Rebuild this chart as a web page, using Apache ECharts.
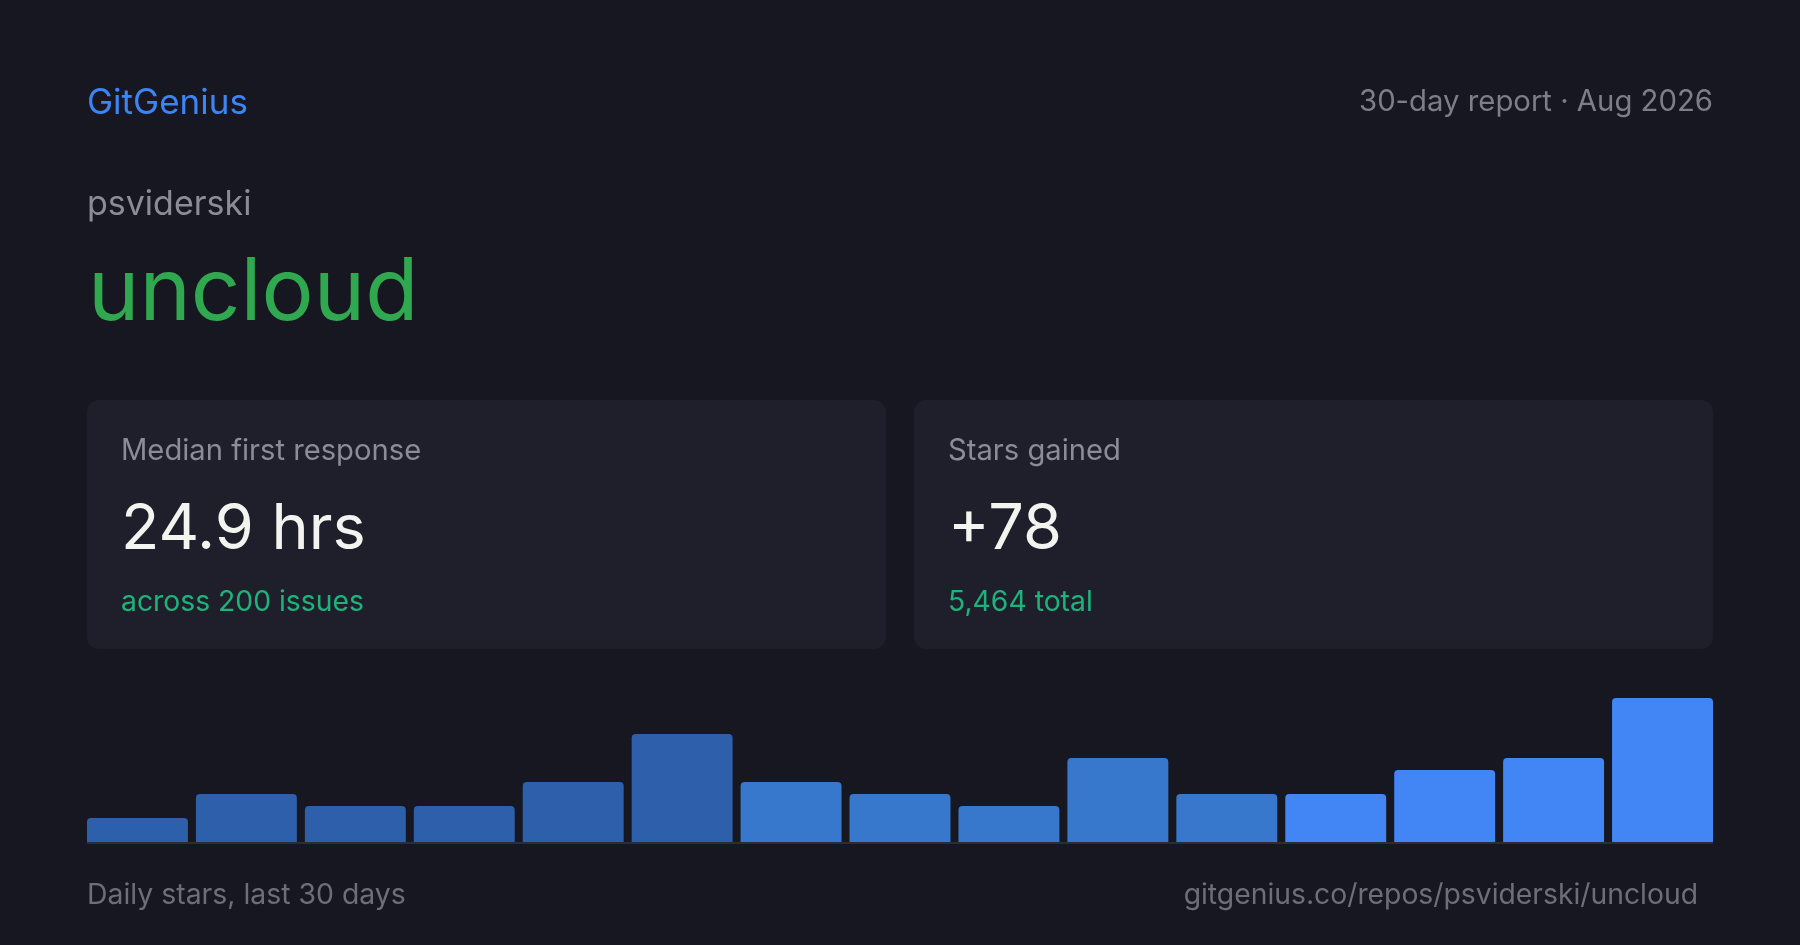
<!DOCTYPE html>
<html>
<head>
<meta charset="utf-8">
<script src="https://cdn.jsdelivr.net/npm/echarts@6/dist/echarts.min.js"></script>
<style>
  html, body { margin: 0; padding: 0; background: #161720; }
  #chart { width: 1800px; height: 945px; }
</style>
</head>
<body>
<div id="chart"></div>
<script>
// ---- data ----
const buckets = ['Days 1–2','Days 3–4','Days 5–6','Days 7–8','Days 9–10','Days 11–12','Days 13–14','Days 15–16','Days 17–18','Days 19–20','Days 21–22','Days 23–24','Days 25–26','Days 27–28','Days 29–30'];
const dailyStars = [2, 4, 3, 3, 5, 9, 5, 4, 3, 7, 4, 4, 6, 7, 12];
const brand = 'GitGenius';
const reportLabel = '30-day report · Aug 2026';
const owner = 'psviderski';
const repo = 'uncloud';
const cardLabels = ['Median first response', 'Stars gained'];
const cardValues = ['24.9 hrs', '+78'];
const cardSubs = ['across 200 issues', '5,464 total'];
const footerLeft = 'Daily stars, last 30 days';
const footerRight = 'gitgenius.co/repos/psviderski/uncloud';

// ---- styles ----
const FONT = 'Inter, "Noto Sans", sans-serif';
const barPalette = ['#2e5faa', '#3778cc', '#4286f5'];
function barColor(i) { return i < 6 ? barPalette[0] : (i < 11 ? barPalette[1] : barPalette[2]); }

const chart = echarts.init(document.getElementById('chart'), null, { renderer: 'canvas' });

function txt(x, y, text, size, color, align, weight) {
  return {
    type: 'text', x: x, y: y, silent: true,
    style: { text: text, fontSize: size, fontFamily: FONT, fill: color,
             align: align || 'left', verticalAlign: 'middle', fontWeight: weight || 400 }
  };
}

const cardX = [87, 914];
const graphics = [];
cardX.forEach(function (cx, i) {
  graphics.push({ type: 'rect', silent: true, z: -10,
    shape: { x: cx, y: 400, width: 799, height: 249, r: 12 },
    style: { fill: '#1f1f2b' } });
  graphics.push(txt(cx + 34, 451.5, cardLabels[i], 29.2, '#8b8c98'));
  graphics.push(txt(cx + 34, 530, cardValues[i], 63, '#f3f3ef'));
  graphics.push(txt(cx + 34, 602, cardSubs[i], 28.3, '#1fb37c'));
});
// baseline under the bars
graphics.push({ type: 'rect', silent: true, z: 0,
  shape: { x: 87, y: 842, width: 1626, height: 2 },
  style: { fill: '#2b2c39' } });
graphics.push(txt(87, 103, brand, 35, '#3d84f5'));
graphics.push(txt(1713, 102.5, reportLabel, 29.3, '#7d7e89', 'right'));
graphics.push(txt(87, 205, owner, 34, '#8b8c98'));
graphics.push(txt(88, 294, repo, 87, '#2fa84f'));
graphics.push(txt(87, 895, footerLeft, 28.4, '#6c6e7a'));
graphics.push(txt(1698, 895, footerRight, 28.3, '#6c6e7a', 'right'));

chart.setOption({
  backgroundColor: '#161720',
  animation: false,
  grid: { left: 83, right: 83, top: 698, bottom: 103, containLabel: false },
  xAxis: {
    type: 'category', data: buckets,
    axisLine: { show: false },
    axisTick: { show: false }, axisLabel: { show: false }, splitLine: { show: false }
  },
  yAxis: {
    type: 'value', min: 0, max: 12, show: false, splitLine: { show: false }
  },
  series: [{
    type: 'bar', data: dailyStars, barCategoryGap: '7.34%', z: 2,
    itemStyle: {
      borderRadius: [4, 4, 0, 0],
      color: function (p) { return barColor(p.dataIndex); }
    }
  }],
  graphic: graphics
});
</script>
</body>
</html>
